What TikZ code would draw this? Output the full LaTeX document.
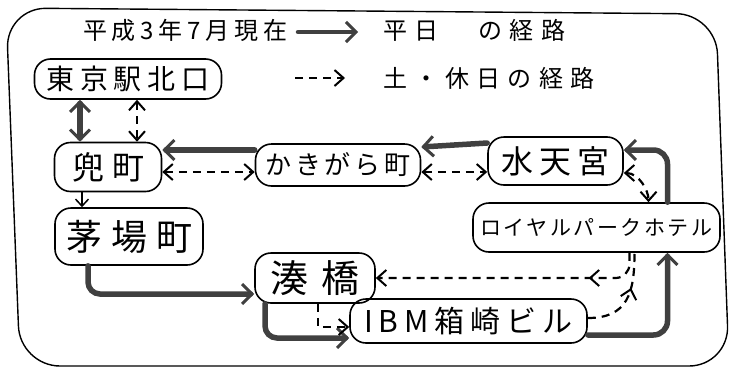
\documentclass[tikz,border=0pt]{standalone}
\usepackage{fontspec}
\setmainfont{Noto Sans CJK JP}
\usetikzlibrary{arrows.meta,calc,decorations.markings}
\begin{document}
\begin{tikzpicture}[x=1pt,y=-1pt,
  box/.style={draw,line width=1.6pt,rounded corners=16pt,inner sep=0pt,align=center},
  fs/.style 2 args={font={\fontsize{#1}{#1}\selectfont\addfontfeature{LetterSpace=#2}}},
  hdr/.style={inner sep=0pt},
  wk/.style={line width=5.5pt,draw=black!75,line cap=round,
     >={Straight Barb[length=10pt,width=20pt,line width=3pt]}},
  hol/.style={line width=2.2pt,dash pattern=on 8pt off 6pt,
     >={Straight Barb[length=9pt,width=16pt,line width=2pt]}},
  thinar/.style={line width=1.5pt,
     >={Straight Barb[length=7pt,width=13pt,line width=1.5pt]}},
  midarrow/.style={postaction={decorate},decoration={markings,
     mark=at position #1 with {\arrow[line width=2pt]{>}}}}
]
\fill[white] (0,0) rectangle (730,370);
\useasboundingbox (0,0) rectangle (730,370);

% outer frame
\draw[line width=1.4pt,rounded corners=40pt] (6,8) -- (716,14) -- (729,366) -- (20,366) -- cycle;

% legend
\node[hdr,fs={24}{20},anchor=west] (title) at (83,30) {平成3年7月現在};
\node[hdr,fs={24}{32},anchor=west] (wd) at (383,30) {平日　の経路};
\node[hdr,fs={24}{30},anchor=west] (we) at (383,78) {土・休日の経路};
\coordinate (ls1) at (298,32);
\coordinate (le1) at (358,32);
\coordinate (ls2) at (295,78);
\coordinate (le2) at (345,78);
\draw[wk,->,line width=4.5pt] (ls1) -- (le1);
\draw[hol,->] (ls2) -- (le2);

% stations
\node[box,minimum width=187pt,minimum height=40pt,fs={28}{20}] (tokyo) at (128,79) {東京駅北口};
\node[box,minimum width=107pt,minimum height=49pt,fs={32}{25}] (kabuto) at (108,167) {兜町};
\node[box,minimum width=165pt,minimum height=42pt,fs={26}{15}] (kaki) at (338,165) {かきがら町};
\node[box,minimum width=135pt,minimum height=48pt,fs={32}{20}] (sui) at (555.5,161) {水天宮};
\node[box,minimum width=148pt,minimum height=57pt,fs={36}{25}] (kaya) at (129,236.5) {茅場町};
\node[box,minimum width=120pt,minimum height=50pt,fs={38}{35}] (mina) at (315,278) {湊橋};
\node[box,minimum width=237pt,minimum height=44pt,fs={30}{20}] (ibm) at (468.5,321) {IBM箱崎ビル};
\node[box,minimum width=247pt,minimum height=49pt,fs={21}{12}] (royal) at (596.5,227.5) {ロイヤルパークホテル};

% weekday route (thick)
\draw[wk,<->] ([xshift=-48pt]tokyo.south) -- ([xshift=-28pt]kabuto.north);
\draw[wk,->] ([yshift=15pt]kaki.west) -- ([yshift=17pt]kabuto.east);
\draw[wk,->] ([yshift=18pt]sui.west) -- ([yshift=18pt]kaki.east);
\draw[wk,->,rounded corners=12pt] ([xshift=-41pt]kaya.south) |- ([yshift=-16pt]mina.west);
\draw[wk,->,rounded corners=12pt] ([xshift=-50pt]mina.south) |- ([yshift=-17pt]ibm.west);
\draw[wk,->,rounded corners=14pt] ([yshift=-14pt]ibm.east) -| ([xshift=71pt]royal.south);
\draw[wk,->,rounded corners=14pt] ([xshift=71pt]royal.north) |- ([yshift=11pt]sui.east);

% thin solid
\draw[thinar,->] ([xshift=-26pt]kabuto.south) -- ([xshift=-47pt]kaya.north);

% holiday route (dashed)
\draw[hol,<->] ([xshift=9pt]tokyo.south) -- ([xshift=29pt]kabuto.north);
\draw[hol,<->] ([yshift=-5pt]kabuto.east) -- ([yshift=-7pt]kaki.west);
\draw[hol,<->] ([yshift=-7pt]kaki.east) -- ([yshift=-11pt]sui.west);
\draw[hol,<->] ([yshift=-12pt]sui.east) .. controls +(15,0) and +(0,-12) .. ([xshift=52pt]royal.north);
\draw[hol,->] ([xshift=3pt]mina.south) |- ([yshift=-6pt]ibm.west);
\draw[hol,midarrow=0.62] ([yshift=3pt]ibm.east) .. controls +(40,0) and +(0,40) .. ([xshift=38pt]royal.south);
\draw[hol,->,midarrow=0.22,rounded corners=14pt] ([xshift=33pt]royal.south) |- (mina.east);
\end{tikzpicture}
\end{document}
